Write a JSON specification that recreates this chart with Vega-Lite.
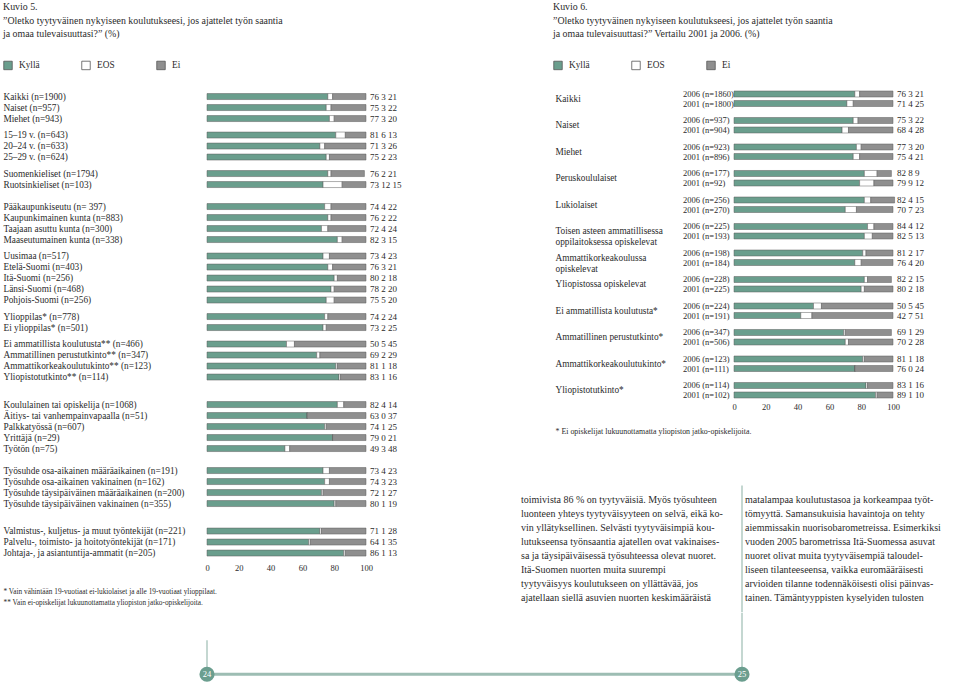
{
  "$schema": "https://vega.github.io/schema/vega-lite/v6.json",
  "background": "white",
  "padding": {"left": 3, "top": 1.5, "right": 5, "bottom": 5},
  "config": {
    "font": "Liberation Serif",
    "view": {"stroke": null},
    "axis": {"grid": false, "ticks": false, "domain": false, "labelFont": "Liberation Serif", "labelColor": "#2b2b2b", "titleFont": "Liberation Serif", "titleColor": "#2b2b2b", "labelOverlap": false},
    "legend": {"labelFont": "Liberation Serif", "titleFont": "Liberation Serif", "labelColor": "#2b2b2b", "titleColor": "#2b2b2b"},
    "text": {"font": "Liberation Serif", "color": "#2b2b2b"}
  },
  "spacing": 527,
  "bounds": "flush",
  "resolve": {"scale": {"color": "independent"}, "legend": {"color": "independent"}},
  "hconcat": [
    {
      "spacing": 56.55,
      "bounds": "flush",
      "vconcat": [
        {
          "width": 159,
          "height": 470.3,
          "data": {"values": [
            {"ryhma": "Kaikki (n=1900)", "Kyllä": 76, "EOS": 3, "Ei": 21},
            {"ryhma": "Naiset (n=957)", "Kyllä": 75, "EOS": 3, "Ei": 22},
            {"ryhma": "Miehet (n=943)", "Kyllä": 77, "EOS": 3, "Ei": 20},
            {"ryhma": "15–19 v. (n=643)", "Kyllä": 81, "EOS": 6, "Ei": 13},
            {"ryhma": "20–24 v. (n=633)", "Kyllä": 71, "EOS": 3, "Ei": 26},
            {"ryhma": "25–29 v. (n=624)", "Kyllä": 75, "EOS": 2, "Ei": 23},
            {"ryhma": "Suomenkieliset (n=1794)", "Kyllä": 76, "EOS": 2, "Ei": 21},
            {"ryhma": "Ruotsinkieliset (n=103)", "Kyllä": 73, "EOS": 12, "Ei": 15},
            {"ryhma": "Pääkaupunkiseutu (n= 397)", "Kyllä": 74, "EOS": 4, "Ei": 22},
            {"ryhma": "Kaupunkimainen kunta (n=883)", "Kyllä": 76, "EOS": 2, "Ei": 22},
            {"ryhma": "Taajaan asuttu kunta (n=300)", "Kyllä": 72, "EOS": 4, "Ei": 24},
            {"ryhma": "Maaseutumainen kunta (n=338)", "Kyllä": 82, "EOS": 3, "Ei": 15},
            {"ryhma": "Uusimaa (n=517)", "Kyllä": 73, "EOS": 4, "Ei": 23},
            {"ryhma": "Etelä-Suomi (n=403)", "Kyllä": 76, "EOS": 3, "Ei": 21},
            {"ryhma": "Itä-Suomi (n=256)", "Kyllä": 80, "EOS": 2, "Ei": 18},
            {"ryhma": "Länsi-Suomi (n=468)", "Kyllä": 78, "EOS": 2, "Ei": 20},
            {"ryhma": "Pohjois-Suomi (n=256)", "Kyllä": 75, "EOS": 5, "Ei": 20},
            {"ryhma": "Ylioppilas* (n=778)", "Kyllä": 74, "EOS": 2, "Ei": 24},
            {"ryhma": "Ei ylioppilas* (n=501)", "Kyllä": 73, "EOS": 2, "Ei": 25},
            {"ryhma": "Ei ammatillista koulutusta** (n=466)", "Kyllä": 50, "EOS": 5, "Ei": 45},
            {"ryhma": "Ammatillinen perustutkinto** (n=347)", "Kyllä": 69, "EOS": 2, "Ei": 29},
            {"ryhma": "Ammattikorkeakoulutukinto** (n=123)", "Kyllä": 81, "EOS": 1, "Ei": 18},
            {"ryhma": "Yliopistotutkinto** (n=114)", "Kyllä": 83, "EOS": 1, "Ei": 16},
            {"ryhma": "Koululainen tai opiskelija (n=1068)", "Kyllä": 82, "EOS": 4, "Ei": 14},
            {"ryhma": "Äitiys- tai vanhempainvapaalla (n=51)", "Kyllä": 63, "EOS": 0, "Ei": 37},
            {"ryhma": "Palkkatyössä (n=607)", "Kyllä": 74, "EOS": 1, "Ei": 25},
            {"ryhma": "Yrittäjä (n=29)", "Kyllä": 79, "EOS": 0, "Ei": 21},
            {"ryhma": "Työtön (n=75)", "Kyllä": 49, "EOS": 3, "Ei": 48},
            {"ryhma": "Työsuhde osa-aikainen määräaikainen (n=191)", "Kyllä": 73, "EOS": 4, "Ei": 23},
            {"ryhma": "Työsuhde osa-aikainen vakinainen (n=162)", "Kyllä": 74, "EOS": 3, "Ei": 23},
            {"ryhma": "Työsuhde täysipäiväinen määräaikainen (n=200)", "Kyllä": 72, "EOS": 1, "Ei": 27},
            {"ryhma": "Työsuhde täysipäiväinen vakinainen (n=355)", "Kyllä": 80, "EOS": 1, "Ei": 19},
            {"ryhma": "Valmistus-, kuljetus- ja muut työntekijät (n=221)", "Kyllä": 71, "EOS": 1, "Ei": 28},
            {"ryhma": "Palvelu-, toimisto- ja hoitotyöntekijät (n=171)", "Kyllä": 64, "EOS": 1, "Ei": 35},
            {"ryhma": "Johtaja-, ja asiantuntija-ammatit (n=205)", "Kyllä": 86, "EOS": 1, "Ei": 13}
          ]},
          "encoding": {
            "y": {
              "field": "ryhma", "type": "nominal", "title": null,
              "scale": {
                "domain": ["Kaikki (n=1900)","~01","Naiset (n=957)","~02","Miehet (n=943)","~03","~04",
                  "15–19 v. (n=643)","~05","20–24 v. (n=633)","~06","25–29 v. (n=624)","~07","~08",
                  "Suomenkieliset (n=1794)","~09","Ruotsinkieliset (n=103)","~10","~11","~12",
                  "Pääkaupunkiseutu (n= 397)","~13","Kaupunkimainen kunta (n=883)","~14","Taajaan asuttu kunta (n=300)","~15","Maaseutumainen kunta (n=338)","~16","~17",
                  "Uusimaa (n=517)","~18","Etelä-Suomi (n=403)","~19","Itä-Suomi (n=256)","~20","Länsi-Suomi (n=468)","~21","Pohjois-Suomi (n=256)","~22","~23",
                  "Ylioppilas* (n=778)","~24","Ei ylioppilas* (n=501)","~25","~26",
                  "Ei ammatillista koulutusta** (n=466)","~27","Ammatillinen perustutkinto** (n=347)","~28","Ammattikorkeakoulutukinto** (n=123)","~29","Yliopistotutkinto** (n=114)","~30","~31","~32","~33",
                  "Koululainen tai opiskelija (n=1068)","~34","Äitiys- tai vanhempainvapaalla (n=51)","~35","Palkkatyössä (n=607)","~36","Yrittäjä (n=29)","~37","Työtön (n=75)","~38","~39","~40",
                  "Työsuhde osa-aikainen määräaikainen (n=191)","~41","Työsuhde osa-aikainen vakinainen (n=162)","~42","Työsuhde täysipäiväinen määräaikainen (n=200)","~43","Työsuhde täysipäiväinen vakinainen (n=355)","~44","~45","~46","~47",
                  "Valmistus-, kuljetus- ja muut työntekijät (n=221)","~48","Palvelu-, toimisto- ja hoitotyöntekijät (n=171)","~49","Johtaja-, ja asiantuntija-ammatit (n=205)"],
                "paddingInner": 0, "paddingOuter": 0.7545, "align": 1
              },
              "axis": {"labelAlign": "left", "labelPadding": 204, "labelBaseline": "middle", "labelLimit": 400, "labelFontSize": 9.3, "labelOverlap": false, "labelExpr": "indexof(datum.value, '~') == 0 ? '' : datum.value"}
            }
          },
          "layer": [
            {
              "transform": [
                {"fold": ["Kyllä", "EOS", "Ei"], "as": ["vastaus", "pct"]},
                {"calculate": "indexof(['Kyllä','EOS','Ei'], datum.vastaus)", "as": "jarj"}
              ],
              "mark": {"type": "bar", "size": 6, "stroke": "#5c5c5c", "strokeWidth": 0.5},
              "encoding": {
                "x": {
                  "field": "pct", "type": "quantitative", "stack": "zero",
                  "scale": {"domain": [0, 100], "nice": false},
                  "axis": {"values": [0, 20, 40, 60, 80, 100], "labelFontSize": 8.5, "labelPadding": 11.5, "labelBaseline": "middle", "labelFlush": false, "labelOverlap": false, "labelBound": false,
                    "title": ["* Vain vähintään 19-vuotiaat ei-lukiolaiset ja alle 19-vuotiaat ylioppilaat.", "** Vain ei-opiskelijat lukuunottamatta yliopiston jatko-opiskelijoita."],
                    "titleX": -204, "titleY": 31.5, "titleAlign": "left", "titleAnchor": "start", "titleBaseline": "top", "titleFontSize": 7.3, "titleFontWeight": "normal", "titleLineHeight": 11}
                },
                "color": {
                  "field": "vastaus", "type": "nominal", "sort": ["Kyllä", "EOS", "Ei"],
                  "scale": {"domain": ["Kyllä", "EOS", "Ei"], "range": ["#6a9e8d", "#ffffff", "#8f8f8f"]},
                  "legend": {
                    "orient": "none", "legendX": -204, "legendY": -83.45, "direction": "horizontal", "columns": 3,
                    "title": ["Kuvio 5.", "”Oletko tyytyväinen nykyiseen koulutukseesi, jos ajattelet työn saantia", "ja omaa tulevaisuuttasi?” (%)"],
                    "titleFontSize": 9.9, "titleLineHeight": 13.5, "titleFontWeight": "normal", "titleLimit": 1000, "titlePadding": 21.5, "titleAnchor": "start",
                    "symbolType": "square", "symbolSize": 72, "symbolStrokeColor": "#555555", "symbolStrokeWidth": 0.8, "symbolOpacity": 1,
                    "labelFontSize": 9.3, "labelOffset": 6, "columnPadding": 40, "gridAlign": "none"
                  }
                },
                "order": {"field": "jarj", "type": "quantitative"}
              }
            },
            {
              "transform": [{"calculate": "datum['Kyllä'] + ' ' + datum.EOS + ' ' + datum.Ei", "as": "lbl"}],
              "mark": {"type": "text", "align": "left", "baseline": "middle", "dx": 4, "fontSize": 9},
              "encoding": {
                "x": {"datum": 100, "type": "quantitative",
                  "axis": {"values": [0, 20, 40, 60, 80, 100], "labelFontSize": 8.5, "labelPadding": 11.5, "labelBaseline": "middle", "labelFlush": false, "labelOverlap": false, "labelBound": false,
                    "title": ["* Vain vähintään 19-vuotiaat ei-lukiolaiset ja alle 19-vuotiaat ylioppilaat.", "** Vain ei-opiskelijat lukuunottamatta yliopiston jatko-opiskelijoita."],
                    "titleX": -204, "titleY": 31.5, "titleAlign": "left", "titleAnchor": "start", "titleBaseline": "top", "titleFontSize": 7.3, "titleFontWeight": "normal", "titleLineHeight": 11}},
                "text": {"field": "lbl"}
              }
            }
          ]
        },
        {
          "width": 535,
          "height": 61.2,
          "data": {"values": [{"page": "24"}, {"page": "25"}]},
          "layer": [
            {
              "data": {"values": [{"osa": "viiva"}]},
              "mark": {"type": "rule", "color": "#9dbdb3", "strokeWidth": 3},
              "encoding": {
                "x": {"datum": "24", "type": "nominal", "scale": {"type": "point", "domain": ["24", "25"], "padding": 0}, "axis": null},
                "x2": {"datum": "25"},
                "y": {"datum": 0, "type": "quantitative", "scale": {"domain": [0, 1]}, "axis": null}
              }
            },
            {
              "data": {"values": [{"osa": "viiva24"}]},
              "mark": {"type": "rule", "color": "#9dbdb3", "strokeWidth": 1.2},
              "encoding": {
                "x": {"datum": "24", "type": "nominal", "axis": null},
                "y": {"datum": 0, "type": "quantitative", "axis": null},
                "y2": {"datum": 0.556}
              }
            },
            {
              "data": {"values": [{"osa": "viiva25"}]},
              "mark": {"type": "rule", "color": "#9dbdb3", "strokeWidth": 1.2},
              "encoding": {
                "x": {"datum": "25", "type": "nominal", "axis": null},
                "y": {"datum": 0, "type": "quantitative", "axis": null},
                "y2": {"datum": 1}
              }
            },
            {
              "mark": {"type": "point", "shape": "circle", "filled": true, "size": 230, "color": "#6b9e8f", "opacity": 1},
              "encoding": {
                "x": {"field": "page", "type": "nominal", "axis": null},
                "y": {"datum": 0, "type": "quantitative", "axis": null}
              }
            },
            {
              "mark": {"type": "text", "color": "#ffffff", "fontSize": 8.5, "baseline": "middle", "align": "center"},
              "encoding": {
                "x": {"field": "page", "type": "nominal", "axis": null},
                "y": {"datum": 0, "type": "quantitative", "axis": null},
                "text": {"field": "page"}
              }
            }
          ]
        }
      ]
    },
    {
      "spacing": 81.95,
      "bounds": "flush",
      "vconcat": [
        {
          "width": 159,
          "height": 318,
          "data": {"values": [
            {"osa": "Kaikki", "vuosi": "2006", "n": 1860, "Kyllä": 76, "EOS": 3, "Ei": 21},
            {"osa": "Kaikki", "vuosi": "2001", "n": 1800, "Kyllä": 71, "EOS": 4, "Ei": 25},
            {"osa": "Naiset", "vuosi": "2006", "n": 937, "Kyllä": 75, "EOS": 3, "Ei": 22},
            {"osa": "Naiset", "vuosi": "2001", "n": 904, "Kyllä": 68, "EOS": 4, "Ei": 28},
            {"osa": "Miehet", "vuosi": "2006", "n": 923, "Kyllä": 77, "EOS": 3, "Ei": 20},
            {"osa": "Miehet", "vuosi": "2001", "n": 896, "Kyllä": 75, "EOS": 4, "Ei": 21},
            {"osa": "Peruskoululaiset", "vuosi": "2006", "n": 177, "Kyllä": 82, "EOS": 8, "Ei": 9},
            {"osa": "Peruskoululaiset", "vuosi": "2001", "n": 92, "Kyllä": 79, "EOS": 9, "Ei": 12},
            {"osa": "Lukiolaiset", "vuosi": "2006", "n": 256, "Kyllä": 82, "EOS": 4, "Ei": 15},
            {"osa": "Lukiolaiset", "vuosi": "2001", "n": 270, "Kyllä": 70, "EOS": 7, "Ei": 23},
            {"osa": "Toisen asteen ammatillisessa oppilaitoksessa opiskelevat", "vuosi": "2006", "n": 225, "Kyllä": 84, "EOS": 4, "Ei": 12},
            {"osa": "Toisen asteen ammatillisessa oppilaitoksessa opiskelevat", "vuosi": "2001", "n": 193, "Kyllä": 82, "EOS": 5, "Ei": 13},
            {"osa": "Ammattikorkeakoulussa opiskelevat", "vuosi": "2006", "n": 198, "Kyllä": 81, "EOS": 2, "Ei": 17},
            {"osa": "Ammattikorkeakoulussa opiskelevat", "vuosi": "2001", "n": 184, "Kyllä": 76, "EOS": 4, "Ei": 20},
            {"osa": "Yliopistossa opiskelevat", "vuosi": "2006", "n": 228, "Kyllä": 82, "EOS": 2, "Ei": 15},
            {"osa": "Yliopistossa opiskelevat", "vuosi": "2001", "n": 225, "Kyllä": 80, "EOS": 2, "Ei": 18},
            {"osa": "Ei ammatillista koulutusta*", "vuosi": "2006", "n": 224, "Kyllä": 50, "EOS": 5, "Ei": 45},
            {"osa": "Ei ammatillista koulutusta*", "vuosi": "2001", "n": 191, "Kyllä": 42, "EOS": 7, "Ei": 51},
            {"osa": "Ammatillinen perustutkinto*", "vuosi": "2006", "n": 347, "Kyllä": 69, "EOS": 1, "Ei": 29},
            {"osa": "Ammatillinen perustutkinto*", "vuosi": "2001", "n": 506, "Kyllä": 70, "EOS": 2, "Ei": 28},
            {"osa": "Ammattikorkeakoulutukinto*", "vuosi": "2006", "n": 123, "Kyllä": 81, "EOS": 1, "Ei": 18},
            {"osa": "Ammattikorkeakoulutukinto*", "vuosi": "2001", "n": 111, "Kyllä": 76, "EOS": 0, "Ei": 24},
            {"osa": "Yliopistotutkinto*", "vuosi": "2006", "n": 114, "Kyllä": 83, "EOS": 1, "Ei": 16},
            {"osa": "Yliopistotutkinto*", "vuosi": "2001", "n": 102, "Kyllä": 89, "EOS": 1, "Ei": 10}
          ]},
          "encoding": {
            "y": {
              "field": "osa", "type": "nominal", "title": null,
              "scale": {"domain": ["Kaikki","Naiset","Miehet","Peruskoululaiset","Lukiolaiset","Toisen asteen ammatillisessa oppilaitoksessa opiskelevat","Ammattikorkeakoulussa opiskelevat","Yliopistossa opiskelevat","Ei ammatillista koulutusta*","Ammatillinen perustutkinto*","Ammattikorkeakoulutukinto*","Yliopistotutkinto*"], "paddingInner": 0.283, "paddingOuter": 0.1415},
              "axis": {"labelAlign": "left", "labelPadding": 179, "labelBaseline": "middle", "labelLimit": 400, "labelFontSize": 9.3, "labelLineHeight": 11, "labelOverlap": false,
                "labelExpr": "datum.value == 'Toisen asteen ammatillisessa oppilaitoksessa opiskelevat' ? ['Toisen asteen ammatillisessa', 'oppilaitoksessa opiskelevat'] : datum.value == 'Ammattikorkeakoulussa opiskelevat' ? ['Ammattikorkeakoulussa', 'opiskelevat'] : datum.value"}
            },
            "yOffset": {"field": "vuosi", "type": "nominal", "scale": {"domain": ["2006", "2001"], "paddingInner": 0.368, "paddingOuter": 0.184}}
          },
          "layer": [
            {
              "transform": [
                {"fold": ["Kyllä", "EOS", "Ei"], "as": ["vastaus", "pct"]},
                {"calculate": "indexof(['Kyllä','EOS','Ei'], datum.vastaus)", "as": "jarj"}
              ],
              "mark": {"type": "bar", "stroke": "#5c5c5c", "strokeWidth": 0.5},
              "encoding": {
                "x": {
                  "field": "pct", "type": "quantitative", "stack": "zero",
                  "scale": {"domain": [0, 100], "nice": false},
                  "axis": {"values": [0, 20, 40, 60, 80, 100], "labelFontSize": 8.5, "labelPadding": 3, "labelBaseline": "middle", "labelFlush": false, "labelOverlap": false, "labelBound": false,
                    "title": "* Ei opiskelijat lukuunottamatta yliopiston jatko-opiskelijoita.",
                    "titleX": -179, "titleY": 23.5, "titleAlign": "left", "titleAnchor": "start", "titleBaseline": "top", "titleFontSize": 7.9, "titleFontWeight": "normal"}
                },
                "color": {
                  "field": "vastaus", "type": "nominal", "sort": ["Kyllä", "EOS", "Ei"],
                  "scale": {"domain": ["Kyllä", "EOS", "Ei"], "range": ["#6a9e8d", "#ffffff", "#8f8f8f"]},
                  "legend": {
                    "orient": "none", "legendX": -181, "legendY": -83.45, "direction": "horizontal", "columns": 3,
                    "title": ["Kuvio 6.", "”Oletko tyytyväinen nykyiseen koulutukseesi, jos ajattelet työn saantia", "ja omaa tulevaisuuttasi?” Vertailu 2001 ja 2006. (%)"],
                    "titleFontSize": 9.9, "titleLineHeight": 13.5, "titleFontWeight": "normal", "titleLimit": 1000, "titlePadding": 21.5, "titleAnchor": "start",
                    "symbolType": "square", "symbolSize": 72, "symbolStrokeColor": "#555555", "symbolStrokeWidth": 0.8, "symbolOpacity": 1,
                    "labelFontSize": 9.3, "labelOffset": 6, "columnPadding": 40, "gridAlign": "none"
                  }
                },
                "order": {"field": "jarj", "type": "quantitative"}
              }
            },
            {
              "transform": [{"calculate": "datum.vuosi + ' (n=' + datum.n + ')'", "as": "vlbl"}],
              "mark": {"type": "text", "align": "left", "baseline": "middle", "dx": -51, "fontSize": 8.5},
              "encoding": {
                "x": {"datum": 0, "type": "quantitative",
                  "axis": {"values": [0, 20, 40, 60, 80, 100], "labelFontSize": 8.5, "labelPadding": 3, "labelBaseline": "middle", "labelFlush": false, "labelOverlap": false, "labelBound": false,
                    "title": "* Ei opiskelijat lukuunottamatta yliopiston jatko-opiskelijoita.",
                    "titleX": -179, "titleY": 23.5, "titleAlign": "left", "titleAnchor": "start", "titleBaseline": "top", "titleFontSize": 7.9, "titleFontWeight": "normal"}},
                "text": {"field": "vlbl"}
              }
            },
            {
              "transform": [{"calculate": "datum['Kyllä'] + ' ' + datum.EOS + ' ' + datum.Ei", "as": "lbl"}],
              "mark": {"type": "text", "align": "left", "baseline": "middle", "dx": 4, "fontSize": 9},
              "encoding": {
                "x": {"datum": 100, "type": "quantitative",
                  "axis": {"values": [0, 20, 40, 60, 80, 100], "labelFontSize": 8.5, "labelPadding": 3, "labelBaseline": "middle", "labelFlush": false, "labelOverlap": false, "labelBound": false,
                    "title": "* Ei opiskelijat lukuunottamatta yliopiston jatko-opiskelijoita.",
                    "titleX": -179, "titleY": 23.5, "titleAlign": "left", "titleAnchor": "start", "titleBaseline": "top", "titleFontSize": 7.9, "titleFontWeight": "normal"}},
                "text": {"field": "lbl"}
              }
            }
          ]
        },
        {
          "width": 159,
          "height": 126.9,
          "layer": [
            {
              "data": {"values": [{"osa": "jakaja"}]},
              "mark": {"type": "rule", "color": "#9dbdb3", "strokeWidth": 1.2, "xOffset": -3},
              "encoding": {"x": {"datum": "b", "type": "nominal", "axis": null}}
            },
            {
              "data": {"values": [
                {"col": "a", "line": 1, "teksti": "toimivista 86 % on tyytyväisiä. Myös työsuhteen"},
                {"col": "a", "line": 2, "teksti": "luonteen yhteys tyytyväisyyteen on selvä, eikä ko-"},
                {"col": "a", "line": 3, "teksti": "vin yllätyksellinen. Selvästi tyytyväisimpiä kou-"},
                {"col": "a", "line": 4, "teksti": "lutukseensa työnsaantia ajatellen ovat vakinaises-"},
                {"col": "a", "line": 5, "teksti": "sa ja täysipäiväisessä työsuhteessa olevat nuoret."},
                {"col": "a", "line": 6, "teksti": "\u2003\u2002Itä-Suomen nuorten muita suurempi"},
                {"col": "a", "line": 7, "teksti": "tyytyväisyys koulutukseen on yllättävää, jos"},
                {"col": "a", "line": 8, "teksti": "ajatellaan siellä asuvien nuorten keskimääräistä"},
                {"col": "b", "line": 1, "teksti": "matalampaa koulutustasoa ja korkeampaa työt-"},
                {"col": "b", "line": 2, "teksti": "tömyyttä. Samansukuisia havaintoja on tehty"},
                {"col": "b", "line": 3, "teksti": "aiemmissakin nuorisobarometreissa. Esimerkiksi"},
                {"col": "b", "line": 4, "teksti": "vuoden 2005 barometrissa Itä-Suomessa asuvat"},
                {"col": "b", "line": 5, "teksti": "nuoret olivat muita tyytyväisempiä taloudel-"},
                {"col": "b", "line": 6, "teksti": "liseen tilanteeseensa, vaikka euromääräisesti"},
                {"col": "b", "line": 7, "teksti": "arvioiden tilanne todennäköisesti olisi päinvas-"},
                {"col": "b", "line": 8, "teksti": "tainen. Tämäntyyppisten kyselyiden tulosten"}
              ]},
              "mark": {"type": "text", "align": "left", "baseline": "middle", "fontSize": 10},
              "encoding": {
                "x": {"field": "col", "type": "nominal", "scale": {"type": "point", "domain": ["a", "b"], "range": [-213, 11], "padding": 0}, "axis": null},
                "y": {"field": "line", "type": "ordinal", "scale": {"type": "band", "paddingInner": 0, "paddingOuter": 0.5}, "axis": null},
                "text": {"field": "teksti"}
              }
            }
          ]
        }
      ]
    }
  ]
}
